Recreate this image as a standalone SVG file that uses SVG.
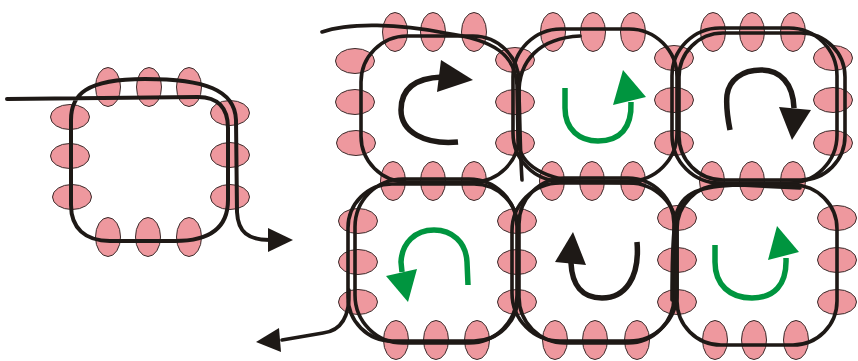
<svg xmlns="http://www.w3.org/2000/svg" xmlns:xlink="http://www.w3.org/1999/xlink" width="858" height="361" viewBox="0 0 858 361">
<style>
.bead{fill:#EE989E;stroke:#3a2a2a;stroke-width:1}
.thr{fill:none;stroke:#1E1916;stroke-width:3.6;stroke-linecap:round;stroke-linejoin:round}
.thr1{fill:none;stroke:#1E1916;stroke-width:4;stroke-linecap:round}
.arrK{fill:none;stroke:#1E1916;stroke-width:5.5}
.arrG{fill:none;stroke:#00953F;stroke-width:5.5}
.headK{fill:#1E1916}
.headG{fill:#00953F}
</style>
<defs>
<ellipse id="bv" class="bead" cx="0" cy="0" rx="12.5" ry="19.5"/>
<ellipse id="bh" class="bead" cx="0" cy="0" rx="19.5" ry="12.5"/>
</defs>
<rect width="858" height="361" fill="#ffffff"/>

<g id="single-unit">
<g id="single-beads">
<use href="#bv" x="108" y="87"/><use href="#bv" x="149" y="87"/><use href="#bv" x="189" y="87"/>
<use href="#bh" x="70" y="117"/><use href="#bh" x="70" y="156"/><use href="#bh" x="72" y="197"/>
<use href="#bh" x="230" y="113"/><use href="#bh" x="230" y="155"/><use href="#bh" x="230" y="197"/>
<use href="#bv" x="108" y="237"/><use href="#bv" x="148" y="237"/><use href="#bv" x="189" y="237"/>
</g>
</g>

<g id="grid-beads">
<use href="#bv" x="395" y="32"/><use href="#bv" x="433" y="32"/><use href="#bv" x="474" y="32"/>
<use href="#bv" x="553" y="32"/><use href="#bv" x="593" y="32"/><use href="#bv" x="633" y="32"/>
<use href="#bv" x="713" y="32"/><use href="#bv" x="752" y="32"/><use href="#bv" x="793" y="32"/>
<use href="#bv" x="393" y="181"/><use href="#bv" x="433" y="181"/><use href="#bv" x="474" y="181"/>
<use href="#bv" x="552" y="181"/><use href="#bv" x="592" y="181"/><use href="#bv" x="633" y="181"/>
<use href="#bv" x="712" y="181"/><use href="#bv" x="752" y="181"/><use href="#bv" x="793" y="181"/>
<use href="#bv" x="396" y="340"/><use href="#bv" x="436" y="340"/><use href="#bv" x="477" y="340"/>
<use href="#bv" x="555" y="340"/><use href="#bv" x="595" y="340"/><use href="#bv" x="637" y="340"/>
<use href="#bv" x="715" y="340"/><use href="#bv" x="754" y="340"/><use href="#bv" x="796" y="340"/>
<use href="#bh" x="355" y="61"/><use href="#bh" x="355" y="102"/><use href="#bh" x="356" y="143"/>
<use href="#bh" x="515" y="60"/><use href="#bh" x="515" y="102"/><use href="#bh" x="515" y="143"/>
<use href="#bh" x="674" y="58"/><use href="#bh" x="674" y="100"/><use href="#bh" x="674" y="143"/>
<use href="#bh" x="833" y="58"/><use href="#bh" x="833" y="100"/><use href="#bh" x="833" y="143"/>
<use href="#bh" x="358" y="221"/><use href="#bh" x="358" y="262"/><use href="#bh" x="358" y="302"/>
<use href="#bh" x="517" y="221"/><use href="#bh" x="517" y="262"/><use href="#bh" x="517" y="302"/>
<use href="#bh" x="677" y="218"/><use href="#bh" x="677" y="260"/><use href="#bh" x="677" y="302"/>
<use href="#bh" x="837" y="218"/><use href="#bh" x="837" y="260"/><use href="#bh" x="837" y="302"/>
</g>

<g id="threads">
<path class="thr1" d="M7,99 L198,97 C218,97 228,108 228,128 L228,200 C228,228 210,241 175,241 L110,241 C85,241 71,228 71,205 L71,120 C71,95 85,79 145,79 C205,79 235,90 236,120 L237,212 C238,232 248,240 270,240"/>
<polygon class="headK" points="268,228 293,240 268,252"/>

<rect class="thr" x="361" y="36" width="158" height="146" rx="46" ry="46"/>
<path class="thr" d="M322,32 C350,22 400,24 445,33 C495,40 515,55 517,85 L518,140 C519,165 545,181 590,182 L640,183"/>
<rect class="thr" x="513" y="29" width="164" height="152" rx="48" ry="48"/>
<path class="thr" d="M522,180 C520,150 520,120 519,95 C518,60 540,38 580,36"/>
<rect class="thr" x="672" y="28" width="165" height="155" rx="48" ry="48"/>
<rect class="thr" x="679" y="33" width="166" height="147" rx="44" ry="44"/>
<rect class="thr" x="355" y="179" width="162" height="164" rx="48" ry="48"/>
<rect class="thr" x="348" y="184" width="170" height="157" rx="44" ry="44"/>
<path class="thr" d="M349,290 C350,318 340,331 323,333 L282,340"/>
<polygon class="headK" points="256,342 279,328 281,352"/>
<rect class="thr" x="512" y="183" width="165" height="158" rx="48" ry="48"/>
<rect class="thr" x="519" y="178" width="155" height="165" rx="46" ry="46"/>
<rect class="thr" x="677" y="185" width="160" height="160" rx="44" ry="44"/>
<path class="thr" d="M672,300 C672,260 673,230 676,215 C682,192 700,186 740,185 L800,188"/>
</g>

<g id="turn-arrows">
<g id="turn-1"><path class="arrK" d="M458,142 C425,145 401,132 401,110 C401,88 416,78 442,77"/><polygon class="headK" points="441,60 473,80 437,92"/></g>
<g id="turn-2"><path class="arrG" d="M565,88 L565,108 C565,130 580,141 598,141 C620,141 632,128 631,102"/><polygon class="headG" points="623,70 613,105 646,97"/></g>
<g id="turn-3"><path class="arrK" d="M730,130 C727,115 726,105 727,95 C729,80 742,70 761,70 C780,70 793,83 794,108"/><polygon class="headK" points="779,107 811,110 792,140"/></g>
<g id="turn-4"><path class="arrG" d="M468,285 L467,262 C466,242 452,230 434,230 C415,230 402,243 401,262 L402,272"/><polygon class="headG" points="386,276 417,269 408,302"/></g>
<g id="turn-5"><path class="arrK" d="M637,242 C640,278 625,298 602,298 C582,298 572,285 571,263"/><polygon class="headK" points="573,232 555,262 586,265"/></g>
<g id="turn-6"><path class="arrG" d="M715,245 L715,262 C715,285 730,298 752,298 C774,298 787,285 786,258"/><polygon class="headG" points="777,226 768,260 799,252"/></g>
</g>
</svg>
